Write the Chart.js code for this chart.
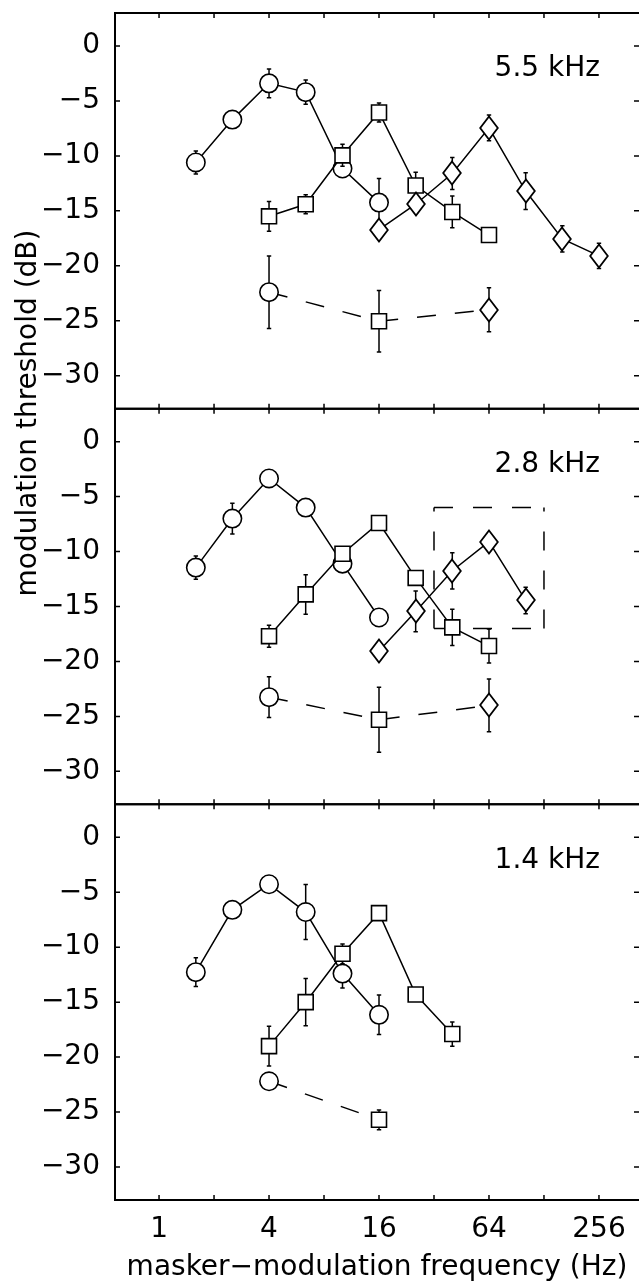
<!DOCTYPE html>
<html>
<head>
<meta charset="utf-8">
<script src="https://cdn.jsdelivr.net/npm/chart.js@4.4.1/dist/chart.umd.min.js"></script>
<style>
html,body{margin:0;padding:0;background:#fff;overflow:hidden}
canvas{display:block}
</style>
</head>
<body>
<canvas id="c" width="639" height="1286"></canvas>
<script>
// ---------------- data ----------------
const xTickValues = [1, 2, 4, 8, 16, 32, 64, 128, 256];
const xTickLabels = ['1', '', '4', '', '16', '', '64', '', '256'];
const yTickValues = [0, -5, -10, -15, -20, -25, -30];
const panelLabels = ['5.5 kHz', '2.8 kHz', '1.4 kHz'];

// masker-modulation frequencies (Hz), 2/3-octave grid
const freqCircle  = [1.59, 2.52, 4, 6.35, 10.1, 16];
const freqSquare  = [4, 6.35, 10.1, 16, 25.4, 40.3, 64];
const freqDiamond = [16, 25.4, 40.3, 64, 101.6, 161.3, 256];
const freqLower   = [4, 16, 64];

// 5.5 kHz panel
const circleA      = [-10.6, -6.7, -3.4, -4.2, -11.15, -14.25];
const circleErrA   = [1.05, null, 1.3, 1.1, null, 2.2];
const squareA      = [-15.5, -14.4, -9.95, -6.05, -12.7, -15.1, -17.2];
const squareErrA   = [1.35, 0.87, 1.0, 0.87, 1.2, 1.45, null];
const diamondA     = [-16.7, -14.4, -11.6, -7.45, -13.2, -17.55, -19.1];
const diamondErrA  = [null, null, 1.45, 1.17, 1.67, 1.2, 1.15];
const lowerA       = [-22.4, -25.05, -24.0];
const lowerErrA    = [3.3, 2.8, 2.0];

// 2.8 kHz panel
const circleB      = [-11.46, -7.0, -3.35, -6.0, -11.1, -16.0];
const circleErrB   = [1.05, 1.4, null, null, null, null];
const squareB      = [-17.7, -13.9, -10.2, -7.4, -12.4, -16.9, -18.6];
const squareErrB   = [1.0, 1.8, null, null, null, 1.65, 1.55];
const diamondB     = [-19.05, -15.45, -11.75, -9.1, -14.45];
const diamondErrB  = [null, 1.85, 1.65, null, 1.2];
const lowerB       = [-23.25, -25.3, -24.0];
const lowerErrB    = [1.85, 2.95, 2.4];
const boxFreq      = [32, 128];
const boxLevel     = [-6, -17];

// 1.4 kHz panel
const circleC      = [-12.27, -6.6, -4.27, -6.8, -12.4, -16.15];
const circleErrC   = [1.3, null, null, 2.5, 1.3, 1.8];
const squareC      = [-19.0, -15.0, -10.6, -6.9, -14.3, -17.9];
const squareErrC   = [1.8, 2.15, 0.9, null, null, 1.1];
const lowerC       = [-22.2, -25.7];
const lowerErrC    = [null, 0.9];

// ---------------- styling helpers ----------------
const FONT = 'DejaVu Sans';
const LW = 1.5;

function makeDiamond() {
  const c = document.createElement('canvas');
  c.width = 22; c.height = 28;
  const g = c.getContext('2d');
  g.fillStyle = '#fff'; g.strokeStyle = '#000'; g.lineWidth = 1.8;
  g.beginPath();
  g.moveTo(11, 2.5); g.lineTo(19.8, 14); g.lineTo(11, 25.5); g.lineTo(2.2, 14);
  g.closePath(); g.fill(); g.stroke();
  return c;
}
const diamondImg = makeDiamond();
const STYLE = {
  circle:  {style: 'circle', r: 9.2},
  square:  {style: 'rect', r: 10.6},
  diamond: {style: diamondImg, r: 10}
};

function pts(xs, ys) { return ys.map((v, i) => ({x: xs[i], y: v})); }

function series(xs, ys, errs, kind, axis, order) {
  const s = STYLE[kind];
  return {
    data: pts(xs, ys), err: errs, yAxisID: axis, order: order,
    showLine: true, borderColor: '#000', borderWidth: LW, tension: 0, fill: false,
    pointStyle: s.style, pointRadius: s.r, pointHoverRadius: s.r,
    pointBorderWidth: 1.6, pointBackgroundColor: '#fff', pointBorderColor: '#000'
  };
}
function lowerSeries(xs, ys, errs, kinds, axis) {
  return {
    data: pts(xs, ys), err: errs, yAxisID: axis, order: 0,
    showLine: true, borderColor: '#000', borderWidth: LW, borderDash: [19, 19], tension: 0, fill: false,
    pointStyle: kinds.map(k => STYLE[k].style), pointRadius: kinds.map(k => STYLE[k].r),
    pointBorderWidth: 1.6, pointBackgroundColor: '#fff', pointBorderColor: '#000'
  };
}
function edge(xs, ys, axis) {
  return {
    data: pts(xs, ys), yAxisID: axis, order: 5,
    showLine: true, borderColor: '#000', borderWidth: LW, borderDash: [19, 20], tension: 0, fill: false,
    pointRadius: 0, pointHoverRadius: 0
  };
}

const datasets = [
  // panel A
  series(freqCircle, circleA, circleErrA, 'circle', 'yA', 3),
  series(freqSquare, squareA, squareErrA, 'square', 'yA', 2),
  series(freqDiamond, diamondA, diamondErrA, 'diamond', 'yA', 1),
  lowerSeries(freqLower, lowerA, lowerErrA, ['circle', 'square', 'diamond'], 'yA'),
  // panel B
  series(freqCircle, circleB, circleErrB, 'circle', 'yB', 3),
  series(freqSquare, squareB, squareErrB, 'square', 'yB', 2),
  series(freqDiamond.slice(0, diamondB.length), diamondB, diamondErrB, 'diamond', 'yB', 1),
  lowerSeries(freqLower, lowerB, lowerErrB, ['circle', 'square', 'diamond'], 'yB'),
  edge([boxFreq[0], boxFreq[0]], [boxLevel[1], boxLevel[0]], 'yB'),
  edge([boxFreq[0], boxFreq[1]], [boxLevel[0], boxLevel[0]], 'yB'),
  edge([boxFreq[1], boxFreq[1]], [boxLevel[1], boxLevel[0]], 'yB'),
  edge([boxFreq[0], boxFreq[1]], [boxLevel[1], boxLevel[1]], 'yB'),
  // panel C
  series(freqCircle, circleC, circleErrC, 'circle', 'yC', 3),
  series(freqSquare.slice(0, squareC.length), squareC, squareErrC, 'square', 'yC', 2),
  lowerSeries(freqLower.slice(0, lowerC.length), lowerC, lowerErrC, ['circle', 'square'], 'yC')
];

// ---------------- plugins ----------------
// keep the plot area reaching the right edge of the canvas (the last tick label would otherwise shrink it)
const fullWidth = {
  id: 'fullWidth',
  afterLayout(chart) {
    const area = chart.chartArea;
    const right = chart.width;
    if (area.right !== right) {
      area.right = right;
      area.width = right - area.left;
      const xs = chart.scales.x;
      xs.right = right;
      xs.width = right - xs.left;
      xs.configure();
      ['yA', 'yB', 'yC'].forEach(id => {
        const s = chart.scales[id];
        if (s.position === 'right') { s.configure(); }
      });
    }
  }
};

const errorBars = {
  id: 'errorBars',
  beforeDraw(chart) { chart.ctx.imageSmoothingEnabled = false; },
  beforeDatasetDraw(chart, args) {
    const ds = chart.data.datasets[args.index];
    if (!ds.err) return;
    const xs = chart.scales.x, ys = chart.scales[ds.yAxisID];
    const ctx = chart.ctx;
    ctx.save();
    ctx.strokeStyle = '#000';
    ctx.lineWidth = 1.5;
    ds.data.forEach((p, i) => {
      const e = ds.err[i];
      if (e == null) return;
      const px = xs.getPixelForValue(p.x);
      const y1 = ys.getPixelForValue(p.y + e);
      const y2 = ys.getPixelForValue(p.y - e);
      ctx.beginPath();
      ctx.moveTo(px, y1); ctx.lineTo(px, y2);
      ctx.moveTo(px - 2.2, y1); ctx.lineTo(px + 2.2, y1);
      ctx.moveTo(px - 2.2, y2); ctx.lineTo(px + 2.2, y2);
      ctx.stroke();
    });
    ctx.restore();
  }
};

const PANELS = ['yA', 'yB', 'yC'];
const frame = {
  id: 'frame',
  afterDraw(chart) {
    const ctx = chart.ctx, xs = chart.scales.x;
    const L = chart.chartArea.left, R = chart.chartArea.right;
    ctx.save();
    ctx.strokeStyle = '#000';
    PANELS.forEach((id, k) => {
      const ys = chart.scales[id];
      const T = ys.top, B = ys.bottom;
      ctx.lineWidth = 2;
      ctx.beginPath();
      ctx.moveTo(L, T); ctx.lineTo(R, T);
      ctx.moveTo(L, B); ctx.lineTo(R, B);
      ctx.moveTo(L, T - 1); ctx.lineTo(L, B + 1);
      ctx.stroke();
      ctx.lineWidth = 1.5;
      ctx.beginPath();
      xTickValues.forEach(v => {
        const px = xs.getPixelForValue(v);
        ctx.moveTo(px, T); ctx.lineTo(px, T + 5);
        ctx.moveTo(px, B); ctx.lineTo(px, B - 5);
      });
      yTickValues.forEach(v => {
        const py = ys.getPixelForValue(v);
        ctx.moveTo(L, py); ctx.lineTo(L + 5, py);
        ctx.moveTo(R, py); ctx.lineTo(R - 5, py);
      });
      ctx.stroke();
      ctx.fillStyle = '#000';
      ctx.font = '28px "' + FONT + '"';
      ctx.textAlign = 'right';
      ctx.textBaseline = 'middle';
      ctx.fillText(panelLabels[k], xs.getPixelForValue(256) + 1, ys.getPixelForValue(-2.1));
    });
    // y-axis title
    ctx.translate(29, 413);
    ctx.rotate(-Math.PI / 2);
    ctx.textAlign = 'center';
    ctx.textBaseline = 'middle';
    ctx.font = '28px "' + FONT + '"';
    ctx.fillText('modulation threshold (dB)', 0, 0);
    ctx.restore();
  }
};

// ---------------- scales ----------------
const tickFont = {family: FONT, size: 28, lineHeight: 1.2};
function yScale(weight) {
  return {
    type: 'linear', min: -33, max: 3, position: 'left',
    stack: 'panels', stackWeight: 1, weight: weight,
    afterBuildTicks: s => { s.ticks = yTickValues.map(v => ({value: v})); },
    afterFit: s => { s.width = 115; s.paddingTop = 0; s.paddingBottom = 0; s.paddingLeft = 0; s.paddingRight = 0; },
    grid: {display: false, drawTicks: false, tickLength: 0},
    border: {display: false},
    ticks: {
      autoSkip: false, padding: 15, color: '#000', font: tickFont,
      callback: v => (v < 0 ? '\u2212' + Math.abs(v) : String(v))
    }
  };
}

new Chart(document.getElementById('c'), {
  type: 'scatter',
  data: {datasets: datasets},
  plugins: [fullWidth, errorBars, frame],
  options: {
    responsive: false,
    devicePixelRatio: 1,
    animation: false,
    events: [],
    layout: {padding: {top: 13, left: 0, right: 0, bottom: 0}},
    plugins: {legend: {display: false}, tooltip: {enabled: false}},
    scales: {
      x: {
        type: 'logarithmic', min: 0.574, max: 424, position: 'bottom',
        afterBuildTicks: s => { s.ticks = xTickValues.map(v => ({value: v})); },
        afterFit: s => { s.height = 86; s.paddingTop = 0; s.paddingBottom = 0; s.paddingLeft = 0; s.paddingRight = 0; },
        grid: {display: false, drawTicks: false, tickLength: 0},
        border: {display: false},
        ticks: {
          autoSkip: false, maxRotation: 0, minRotation: 0, padding: 0, color: '#000',
          font: {family: FONT, size: 28, lineHeight: 2.13},
          callback: (v, i) => xTickLabels[i]
        },
        title: {
          display: true, text: 'masker\u2212modulation frequency (Hz)', color: '#000',
          font: tickFont, padding: {top: 0, bottom: 1}
        }
      },
      yA: yScale(3),
      yB: yScale(2),
      yC: yScale(1)
    }
  }
});
</script>
</body>
</html>
